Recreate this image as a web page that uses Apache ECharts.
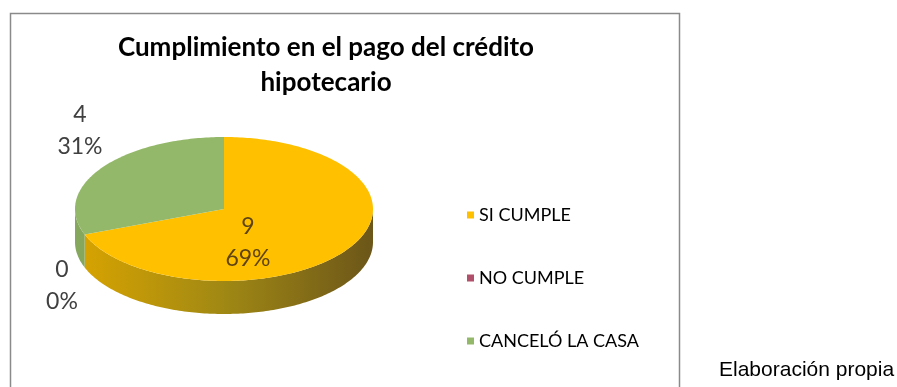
<!DOCTYPE html>
<html>
<head>
<meta charset="utf-8">
<script src="https://cdn.jsdelivr.net/npm/echarts@6.0.0/dist/echarts.min.js"></script>
<style>
  html, body { margin: 0; padding: 0; background: #fff; }
  #chart { width: 897px; height: 387px; }
</style>
</head>
<body>
<div id="chart"></div>
<script>
// data
const categories = ['SI CUMPLE', 'NO CUMPLE', 'CANCELÓ LA CASA'];
const counts = [9, 0, 4];

// styles
const colors = ['#FFC000', '#B0506A', '#94B86A'];
const sideColors = [
    ['#D9A400', '#A08814', '#6C5619'],
    ['#8A3A4E', '#6A2C3C', '#4A1E2A'],
    ['#86A85E', '#6E8C4C', '#56703C']
];
const labelColors = ['#5E4412', '#404040', '#404040'];
const labelAt = [[248, 243], [62, 286], [80, 131]];
const pie = { cx: 224, cy: 209, rx: 149, ry: 72, depth: 33 };

const total = counts.reduce((s, v) => s + v, 0);

function arcPoints(a0, a1, dy) {
    const pts = [];
    const n = Math.max(2, Math.ceil(Math.abs(a1 - a0)));
    for (let k = 0; k <= n; k++) {
        const a = (a0 + (a1 - a0) * k / n) * Math.PI / 180;
        pts.push([pie.cx + pie.rx * Math.sin(a), pie.cy - pie.ry * Math.cos(a) + dy]);
    }
    return pts;
}

function makeRender(i) {
    return function (params, api) {
        const v = api.value(0);
        const before = counts.slice(0, i).reduce((s, x) => s + x, 0);
        const a0 = before / total * 360;
        const a1 = (before + v) / total * 360;
        const children = [];
        // front wall, only the part facing the viewer
        const s0 = Math.max(a0, 90), s1 = Math.min(a1, 270);
        if (s1 > s0) {
            const pts = arcPoints(s0, s1, 0).concat(arcPoints(s1, s0, pie.depth));
            const sc = sideColors[i];
            children.push({
                type: 'polygon',
                z2: 1,
                shape: { points: pts },
                style: {
                    fill: new echarts.graphic.LinearGradient(pie.cx - pie.rx, 0, pie.cx + pie.rx, 0, [
                        { offset: 0, color: sc[0] },
                        { offset: 0.5, color: sc[1] },
                        { offset: 1, color: sc[2] }
                    ], true)
                }
            });
        }
        // top face
        if (v > 0) {
            children.push({
                type: 'polygon',
                z2: 5,
                shape: { points: [[pie.cx, pie.cy]].concat(arcPoints(a0, a1, 0)) },
                style: { fill: colors[i] }
            });
        }
        const pct = Math.round(v / total * 100);
        children.push({
            type: 'text',
            z2: 10,
            style: {
                text: v + '\n' + pct + '%',
                x: labelAt[i][0],
                y: labelAt[i][1],
                align: 'center',
                verticalAlign: 'middle',
                fontFamily: 'Lato',
                fontSize: 23,
                lineHeight: 32,
                fill: labelColors[i]
            }
        });
        return { type: 'group', children: children };
    };
}

const myChart = echarts.init(document.getElementById('chart'));

const series = categories.map((name, i) => ({
    type: 'custom',
    name: name,
    coordinateSystem: 'none',
    itemStyle: { color: colors[i] },
    data: [[counts[i]]],
    renderItem: makeRender(i)
}));

const option = {
    animation: false,
    backgroundColor: '#fff',
    title: {
        text: 'Cumplimiento en el pago del crédito\nhipotecario',
        left: 321,
        top: 25,
        textAlign: 'center',
        textStyle: {
            fontFamily: 'Lato',
            fontWeight: 'bold',
            fontSize: 26,
            lineHeight: 35,
            color: '#000'
        }
    },
    legend: {
        orient: 'vertical',
        left: 462,
        top: 200,
        icon: 'rect',
        itemWidth: 7,
        itemHeight: 7,
        itemGap: 43,
        selectedMode: false,
        data: categories,
        textStyle: {
            fontFamily: 'Lato',
            fontSize: 18,
            lineHeight: 20,
            color: '#000'
        }
    },
    graphic: [
        {
            type: 'rect',
            shape: { x: 10.5, y: 13.5, width: 669, height: 400 },
            style: { fill: 'none', stroke: '#8a8a8a', lineWidth: 1.5 },
            silent: true
        },
        {
            type: 'text',
            left: 719,
            top: 360,
            style: {
                text: 'Elaboración propia',
                fontFamily: 'Liberation Sans',
                fontSize: 21,
                fill: '#000'
            }
        }
    ],
    series: series
};

myChart.setOption(option);
</script>
</body>
</html>
